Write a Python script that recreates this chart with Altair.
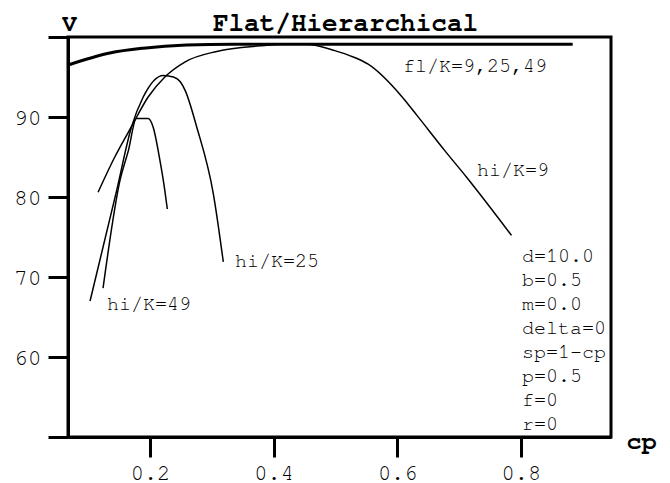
import altair as alt
import pandas as pd

# Flat organisation, K = 9, 25, 49 (all three coincide)
fl_cp = [0.0678, 0.135, 0.189, 0.259, 0.334, 0.884]
fl_v = [96.5, 98.0, 98.6, 99.0, 99.1, 99.1]

# Hierarchical organisation
hi9_cp = [0.116, 0.143, 0.170, 0.197, 0.224, 0.257, 0.308, 0.378, 0.415, 0.454,
          0.499, 0.529, 0.553, 0.607, 0.632, 0.677, 0.712, 0.785]
hi9_v = [80.6, 85.0, 88.8, 92.5, 95.0, 96.9, 98.2, 98.9, 99.1, 99.1,
         98.3, 97.5, 96.6, 92.6, 90.2, 85.8, 82.5, 75.2]

hi25_cp = [0.103, 0.146, 0.170, 0.189, 0.2215, 0.238, 0.249, 0.257, 0.2756, 0.3025, 0.3186]
hi25_v = [67.0, 80.8, 88.75, 92.5, 95.2, 95.0, 94.4, 93.3, 88.75, 80.4, 71.9]

hi49_cp = [0.124, 0.1515, 0.165, 0.178, 0.197, 0.205, 0.216, 0.224, 0.228]
hi49_v = [68.6, 82.1, 85.8, 89.8, 89.8, 88.75, 84.6, 80.8, 78.5]

# Curve labels and where they sit (data coordinates)
label_text = ["fl/K=9,25,49", "hi/K=9", "hi/K=25", "hi/K=49"]
label_cp = [0.6094, 0.729, 0.3375, 0.1304]
label_v = [95.6, 82.6, 71.25, 65.84]

# Model parameters
params = ["d=10.0", "b=0.5", "m=0.0", "delta=0", "sp=1-cp", "p=0.5", "f=0", "r=0"]

# Axis tick positions
x_ticks = [0.2, 0.4, 0.6, 0.8]
y_ticks = [50, 55, 60, 65, 70, 75, 80, 85, 90, 95, 100]

FONT = "Nimbus Mono PS, FreeMono, Courier, Liberation Mono, monospace"
TICK_LEN = 20

thin = pd.concat([
    pd.DataFrame({"cp": hi9_cp, "V": hi9_v, "series": "hi/K=9"}),
    pd.DataFrame({"cp": hi25_cp, "V": hi25_v, "series": "hi/K=25"}),
    pd.DataFrame({"cp": hi49_cp, "V": hi49_v, "series": "hi/K=49"}),
])
thick = pd.DataFrame({"cp": fl_cp, "V": fl_v, "series": "fl"})
labels = pd.DataFrame({"cp": label_cp, "V": label_v, "text": label_text})
param_df = pd.DataFrame({"cp": [0.802], "V": [71.9], "text": ["\n".join(params)]})

x_scale = alt.Scale(domain=[0.0673, 0.946], nice=False, zero=False)
y_scale = alt.Scale(domain=[50, 100], nice=False, zero=False)

x_enc = alt.X(
    "cp:Q", scale=x_scale,
    axis=alt.Axis(
        values=x_ticks, format=".1f", grid=False,
        ticks=True, tickSize=TICK_LEN, tickWidth=3, tickColor="#000000", zindex=2,
        labelFont=FONT, labelFontSize=22, labelColor="black", labelPadding=5,
        title="cp", titleFont=FONT, titleFontSize=25, titleFontWeight="bold",
        titleColor="black", titleX=573, titleY=3,
        titleAlign="center", titleBaseline="middle",
    ),
)
y_enc = alt.Y(
    "V:Q", scale=y_scale,
    axis=alt.Axis(
        values=y_ticks, grid=False,
        ticks=True, tickSize=TICK_LEN, tickWidth=3, tickColor="#000000", zindex=2,
        labelExpr="(datum.value % 10 == 0 && datum.value >= 60 && datum.value <= 90) ? datum.label : ''",
        labelFont=FONT, labelFontSize=23, labelColor="black", labelPadding=7,
        title="V", titleFont=FONT, titleFontSize=25, titleFontWeight="bold",
        titleColor="black", titleAngle=0, titleX=1, titleY=-15,
        titleAlign="center", titleBaseline="middle",
    ),
)

hi_lines = alt.Chart(thin).mark_line(
    color="black", strokeWidth=1.5, interpolate="monotone"
).encode(x=x_enc, y=y_enc, detail="series:N")

fl_line = alt.Chart(thick).mark_line(
    color="black", strokeWidth=3, interpolate="monotone"
).encode(x="cp:Q", y="V:Q")

curve_labels = alt.Chart(labels).mark_text(
    font=FONT, fontSize=20, color="black", align="left", baseline="alphabetic"
).encode(x="cp:Q", y="V:Q", text="text:N")

param_text = alt.Chart(param_df).mark_text(
    font=FONT, fontSize=20, color="black", align="left", baseline="alphabetic",
    lineBreak="\n", lineHeight=24
).encode(x="cp:Q", y="V:Q", text="text:N")

chart = alt.layer(hi_lines, fl_line, curve_labels, param_text).properties(
    width=543, height=400,
    title=alt.TitleParams(
        "Flat/Hierarchical", font=FONT, fontSize=26, fontWeight="bold",
        color="black", anchor="middle", dx=6, offset=-47, baseline="alphabetic",
    ),
    autosize=alt.AutoSizeParams(type="none"),
    padding={"left": 68, "top": 37, "right": 59, "bottom": 46},
).configure_view(
    stroke="black", strokeWidth=3
).configure_axis(
    domain=True, domainColor="black", domainWidth=3,
)

chart.save("out.html", embed_options={"renderer": "svg", "actions": False})
